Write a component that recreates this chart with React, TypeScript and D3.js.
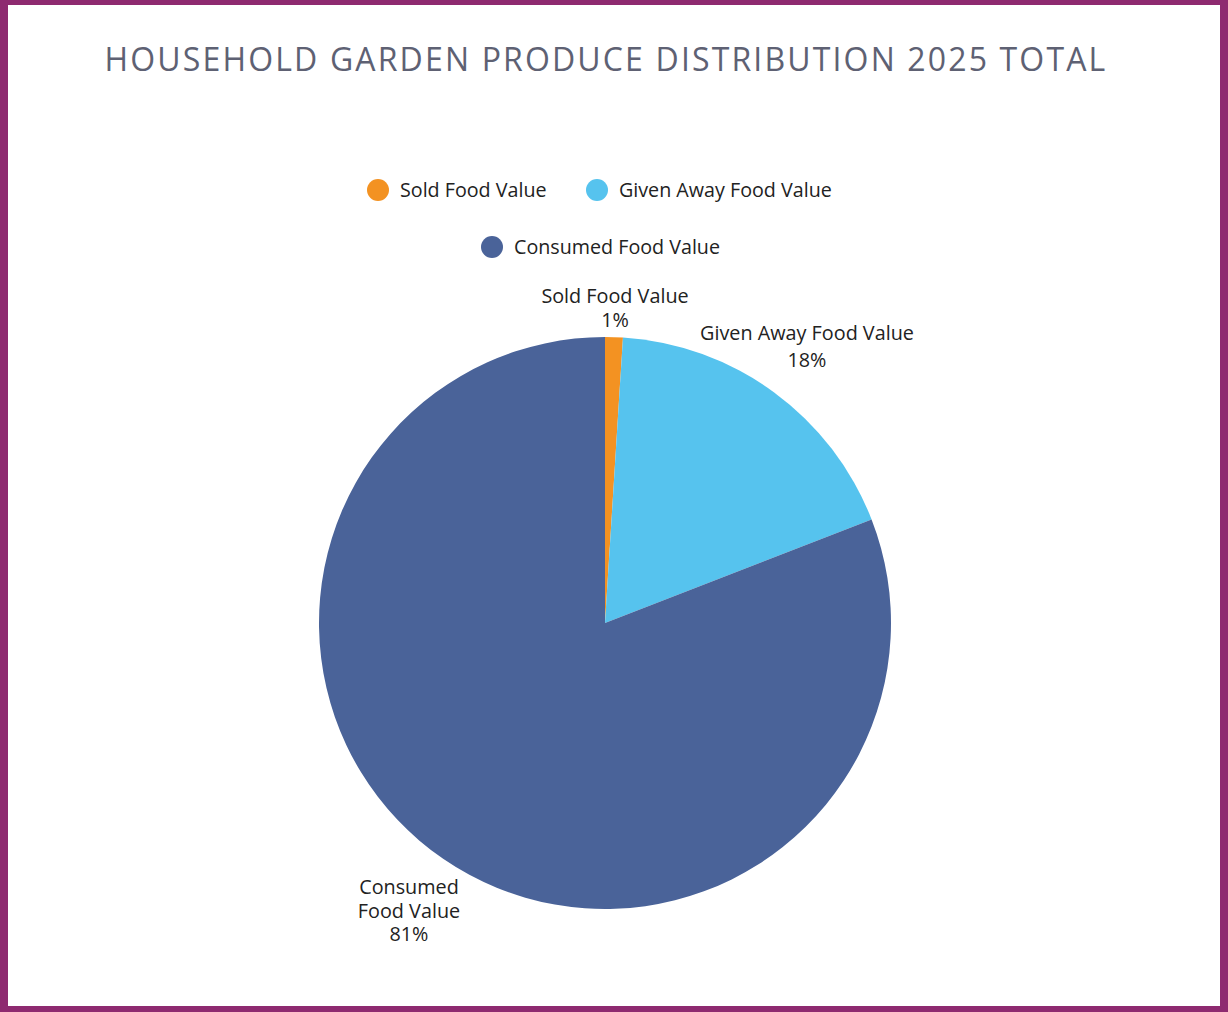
import React from "react";
import * as d3 from "d3";

const categories = ["Sold Food Value", "Given Away Food Value", "Consumed Food Value"];
const values = [1.0, 18.1, 80.9];
const colors = ["#F39222", "#56C3EE", "#4A6399"];
const labelLines = [["Sold Food Value", "1%"], ["Given Away Food Value", "18%"], ["Consumed", "Food Value", "81%"]];
const title = "HOUSEHOLD GARDEN PRODUCE DISTRIBUTION 2025 TOTAL";

const W = 1228, H = 1012;
const cx = 605, cy = 623, R = 286;
const font = "'Open Sans', 'Noto Sans', sans-serif";

export default function App() {
  const pie = d3.pie<number>().sort(null).value((d) => d)(values);
  const arc = d3.arc<d3.PieArcDatum<number>>().innerRadius(0).outerRadius(R);
  const labelPos: [number, number, number][] = [
    [615, 303, 24],
    [807, 340, 27],
    [409, 894, 23.5],
  ];
  const legend = [
    { i: 0, cx: 378, cy: 190 },
    { i: 1, cx: 597, cy: 190 },
    { i: 2, cx: 492, cy: 247 },
  ];
  return (
    <svg width={W} height={H} style={{ position: "absolute", left: 0, top: 0 }} fontFamily={font}>
      <rect x={0} y={0} width={W} height={H} fill="#8E2A70" />
      <rect x={8} y={5} width={W - 16} height={1001} fill="#ffffff" />
      <text x={606} y={71} textAnchor="middle" fontSize={32} fill="#5E6173" letterSpacing={2.15}>
        {title}
      </text>
      {legend.map((l) => (
        <g key={l.i}>
          <circle cx={l.cx} cy={l.cy} r={11} fill={colors[l.i]} />
          <text x={l.cx + 22} y={l.cy + 7} fontSize={19.7} fill="#222">
            {categories[l.i]}
          </text>
        </g>
      ))}
      <g transform={`translate(${cx},${cy})`}>
        {pie.map((p, i) => (
          <path key={i} d={arc(p) || ""} fill={colors[i]} />
        ))}
      </g>
      {labelLines.map((lines, i) => (
        <text key={i} textAnchor="middle" fontSize={19.8} fill="#222">
          {lines.map((t, j) => (
            <tspan key={j} x={labelPos[i][0]} y={labelPos[i][1] + j * labelPos[i][2]}>
              {t}
            </tspan>
          ))}
        </text>
      ))}
    </svg>
  );
}
